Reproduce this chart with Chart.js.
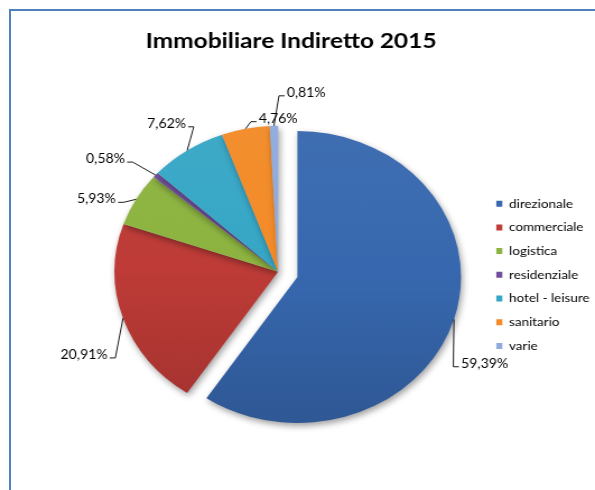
<!DOCTYPE html>
<html lang="it">
<head>
<meta charset="utf-8">
<title>Immobiliare Indiretto 2015</title>
<script src="https://cdn.jsdelivr.net/npm/chart.js@4.4.1/dist/chart.umd.min.js"></script>
<style>
  html, body { margin: 0; padding: 0; background: #fff; }
  body { width: 595px; height: 490px; position: relative; overflow: hidden; }
  #frame {
    position: absolute; left: 9px; top: 9px; width: 640px; height: 540px;
    border-top: 2px solid #4F81BD; border-left: 2px solid #4F81BD;
  }
  /* the chart is drawn at 531px and stretched across the 595px box */
  #chart { position: absolute; left: 0; top: 0; transform-origin: 0 0; transform: scaleX(1.1205); }
</style>
</head>
<body>
<div id="frame"></div>
<canvas id="chart" width="531" height="490"></canvas>
<script>
const categories = ['direzionale', 'commerciale', 'logistica', 'residenziale', 'hotel - leisure', 'sanitario', 'varie'];
const shares = [59.39, 20.91, 5.93, 0.58, 7.62, 4.76, 0.81];

const sliceColours = ['#3768AF', '#BE3B37', '#8CB33F', '#6F4E9E', '#36A6C6', '#F38A26', '#8FAADC'];
// pull-out distance of each slice, px
const explode = [18, 0, 0, 0, 0, 0, 0];
// where each percentage sits relative to the rim point of its slice
const labelShift = [[27.4, 44.3], [-34.8, 36.7], [-35.4, 0], [-44.7, -16], [-18.4, -26.6], [29.1, -10], [28.8, -33]];
const pieRadius = 146;
const titleCentre = 259.8;

// legend sizing: keys start at x = 442.9, so the right padding follows from the legend width
const legendFontSize = 12, legendGap = 11.7, legendKey = 5.4;
const measure = document.createElement('canvas').getContext('2d');
measure.font = legendFontSize + 'px Lato';
const longestEntry = Math.max(...categories.map(c => measure.measureText(c).width));
const legendWidth = legendGap + legendKey + legendFontSize / 2 + longestEntry + 10;
const legendLeft = 442.9 - legendGap;

function shade(hex, amt) {
  const n = parseInt(hex.slice(1), 16);
  const f = c => Math.round(amt >= 0 ? c + (255 - c) * amt : c * (1 + amt));
  return 'rgb(' + f(n >> 16) + ',' + f((n >> 8) & 255) + ',' + f(n & 255) + ')';
}

function sliceFill(ctx) {
  const base = sliceColours[ctx.dataIndex] || sliceColours[0];
  const area = ctx.chart.chartArea;
  if (!area) return base;
  const cy = (area.top + area.bottom) / 2;
  const g = ctx.chart.ctx.createLinearGradient(0, cy - pieRadius, 0, cy + pieRadius);
  g.addColorStop(0, shade(base, 0.04));
  g.addColorStop(0.5, base);
  g.addColorStop(1, shade(base, -0.15));
  return g;
}

const fmt = v => v.toFixed(2).replace('.', ',') + '%';

const piePlugin = {
  id: 'pieExtras',
  afterLayout(chart) {
    // centre the title over the whole frame rather than the padded box
    const t = chart.titleBlock;
    const half = (t.right - t.left) / 2;
    t.left = titleCentre - half;
    t.right = titleCentre + half;
  },
  afterDatasetsUpdate(chart) {
    chart.getDatasetMeta(0).data.forEach((arc, i) => {
      const d = explode[i];
      if (!d) return;
      const mid = (arc.startAngle + arc.endAngle) / 2;
      arc.x += Math.cos(mid) * d;
      arc.y += Math.sin(mid) * d;
    });
  },
  beforeDatasetsDraw(chart) {
    const ctx = chart.ctx;
    ctx.save();
    ctx.shadowColor = 'rgba(0,0,0,0.38)';
    ctx.shadowBlur = 6;
    ctx.shadowOffsetX = 1.5;
    ctx.shadowOffsetY = 3;
  },
  afterDatasetsDraw(chart) {
    const ctx = chart.ctx;
    ctx.restore();
    ctx.save();
    ctx.font = '12.5px Lato';
    ctx.fillStyle = '#000';
    ctx.strokeStyle = '#000';
    ctx.lineWidth = 0.9;
    ctx.textAlign = 'center';
    ctx.textBaseline = 'middle';
    chart.getDatasetMeta(0).data.forEach((arc, i) => {
      const mid = (arc.startAngle + arc.endAngle) / 2;
      const ax = arc.x + Math.cos(mid) * arc.outerRadius;
      const ay = arc.y + Math.sin(mid) * arc.outerRadius;
      const tx = ax + labelShift[i][0];
      const ty = ay + labelShift[i][1];
      const text = fmt(shares[i]);
      const w = ctx.measureText(text).width;
      const side = tx < ax ? 1 : -1;
      const edge = tx + side * (w / 2 + 2);
      const ly = ty + 3;
      ctx.beginPath();
      ctx.moveTo(edge, ly);
      ctx.lineTo(edge + side * 5, ly);
      ctx.lineTo(ax, ay);
      ctx.stroke();
      ctx.fillText(text, tx, ty);
    });
    ctx.restore();
  }
};

new Chart(document.getElementById('chart'), {
  type: 'pie',
  data: {
    labels: categories,
    datasets: [{
      data: shares,
      backgroundColor: sliceFill,
      borderWidth: 0,
      radius: pieRadius
    }]
  },
  options: {
    responsive: false,
    animation: false,
    events: [],
    layout: { padding: { top: 10, left: 65.2, right: 531 - legendLeft - legendWidth, bottom: 0 } },
    plugins: {
      title: {
        display: true,
        text: 'Immobiliare Indiretto 2015',
        color: '#000',
        font: { family: 'Lato', size: 21.8, weight: 'bold', lineHeight: 1.2 },
        padding: { top: 17.4, bottom: 0 }
      },
      legend: {
        position: 'right',
        fullSize: false,
        // empty title just nudges the entries a few px down
        title: { display: true, text: '', padding: 0, font: { size: 6, lineHeight: 1 } },
        labels: {
          color: '#000',
          font: { family: 'Lato', size: legendFontSize },
          boxWidth: legendKey,
          boxHeight: 6,
          padding: legendGap,
          generateLabels: () => categories.map((c, i) => ({
            text: c, fillStyle: sliceColours[i], strokeStyle: sliceColours[i],
            fontColor: '#000', lineWidth: 0, hidden: false, index: i
          }))
        }
      },
      tooltip: { enabled: false }
    }
  },
  plugins: [piePlugin]
});
</script>
</body>
</html>
